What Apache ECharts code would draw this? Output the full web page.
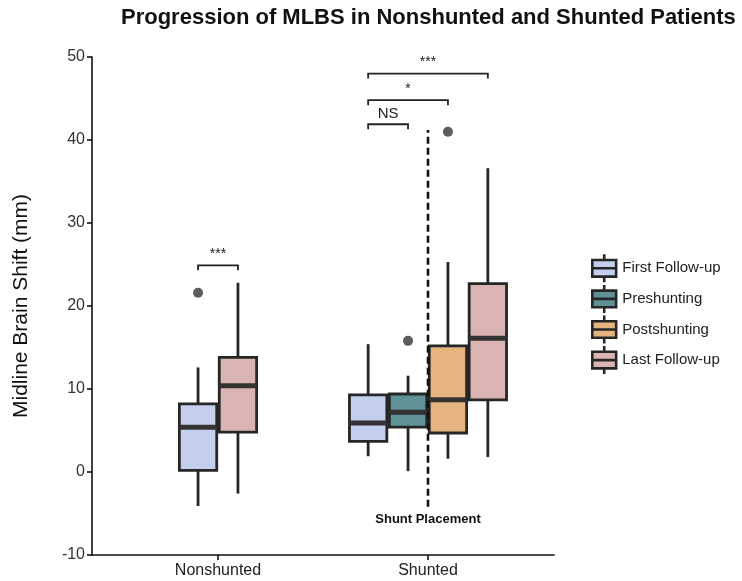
<!DOCTYPE html>
<html>
<head>
<meta charset="utf-8">
<script src="https://cdn.jsdelivr.net/npm/echarts@6/dist/echarts.min.js"></script>
<style>html,body{margin:0;padding:0;background:#fff}#c{width:742px;height:581px}</style>
</head>
<body>
<div id="c"></div>
<script>
// ---- data ----
const categories = ['Nonshunted', 'Shunted'];
const seriesNames = ['First Follow-up', 'Preshunting', 'Postshunting', 'Last Follow-up'];
const yTicks = [-10, 0, 10, 20, 30, 40, 50];
// [min, q1, median, q3, max] per category (null = not present)
const firstFollowUp = [[-4.1, 0.2, 5.4, 8.2, 12.6], [1.9, 3.7, 5.9, 9.3, 15.4]];
const preshunting   = [null, [0.1, 5.4, 7.2, 9.4, 11.6]];
const postshunting  = [null, [1.6, 4.7, 8.7, 15.2, 25.3]];
const lastFollowUp  = [[-2.6, 4.8, 10.4, 13.8, 22.8], [1.8, 8.7, 16.1, 22.7, 36.6]];
// outliers per series per category
const firstOutliers = [[21.6], []];
const preOutliers   = [[], [15.8]];
const postOutliers  = [[], [41.0]];
const lastOutliers  = [[], []];
// significance brackets
const sigCats   = ['Nonshunted', 'Shunted', 'Shunted', 'Shunted'];
const sigFrom   = [0, 0, 0, 0];
const sigTo     = [1, 1, 2, 3];
const sigY      = [24.9, 41.9, 44.8, 48.0];
const sigLabels = ['***', 'NS', '*', '***'];
const shuntLine = { category: 'Shunted', from: -4.2, to: 41.2, label: 'Shunt Placement', labelY: -5.7 };

// ---- layout helpers ----
const colors = ['#c3cfec', '#5f9196', '#e6b47f', '#dab4b3'];
const allSeries = [firstFollowUp, preshunting, postshunting, lastFollowUp];
const allOutliers = [firstOutliers, preOutliers, postOutliers, lastOutliers];
const dodge = 0.19, boxW = 0.178;
function present(ci) { return allSeries.map((s, i) => s[ci] ? i : -1).filter(i => i >= 0); }
function boxX(ci, k) {
  const idx = present(ci);
  return (ci + 1) + (k - (idx.length - 1) / 2) * dodge;
}
function xPos(ci, si) { return boxX(ci, present(ci).indexOf(si)); }

const boxSeries = allSeries.map((s, si) => ({
  name: seriesNames[si],
  type: 'custom',
  color: colors[si],
  encode: { x: 0, y: [1, 5] },
  data: s.map((v, ci) => v ? [xPos(ci, si)].concat(v) : null).filter(d => d),
  renderItem: function (params, api) {
    const x = api.value(0);
    const pMin = api.coord([x, api.value(1)]);
    const pQ1 = api.coord([x, api.value(2)]);
    const pMed = api.coord([x, api.value(3)]);
    const pQ3 = api.coord([x, api.value(4)]);
    const pMax = api.coord([x, api.value(5)]);
    const w = api.size([boxW, 0])[0];
    const ln = { stroke: '#262626', lineWidth: 2.8 };
    return {
      type: 'group',
      children: [
        { type: 'line', shape: { x1: pQ3[0], y1: pQ3[1], x2: pMax[0], y2: pMax[1] }, style: ln },
        { type: 'line', shape: { x1: pMin[0], y1: pMin[1], x2: pQ1[0], y2: pQ1[1] }, style: ln },
        { type: 'rect', shape: { x: pQ3[0] - w / 2, y: pQ3[1], width: w, height: pQ1[1] - pQ3[1] },
          style: { fill: colors[si], stroke: '#262626', lineWidth: 2.8 } },
        { type: 'line', shape: { x1: pMed[0] - w / 2, y1: pMed[1], x2: pMed[0] + w / 2, y2: pMed[1] },
          style: { stroke: '#333', lineWidth: 5 } }
      ]
    };
  }
}));

const outlierData = [];
allOutliers.forEach((o, si) => o.forEach((vals, ci) => vals.forEach(v => outlierData.push([xPos(ci, si), v]))));

const sigData = sigY.map((y, i) => {
  const ci = categories.indexOf(sigCats[i]);
  return [boxX(ci, sigFrom[i]), boxX(ci, sigTo[i]), y, i];
});

const legendIcon = 'path://M12.5,0L12.5,5.5M1,5.5L24,5.5L24,21.5L1,21.5ZM1,13.5L24,13.5M12.5,21.5L12.5,27';

const option = {
  animation: false,
  backgroundColor: '#fff',
  title: {
    text: 'Progression of MLBS in Nonshunted and Shunted Patients',
    left: 116, top: 2,
    textStyle: { fontFamily: 'Liberation Sans', fontWeight: 'bold', fontSize: 22, color: '#111' }
  },
  legend: {
    orient: 'vertical', left: 591, top: 253, padding: 0,
    itemWidth: 26, itemHeight: 28, itemGap: 0,
    textStyle: { fontFamily: 'Liberation Sans', fontSize: 15, color: '#222' },
    data: seriesNames.map((n, i) => ({ name: n, icon: legendIcon,
      itemStyle: { color: colors[i], borderColor: '#262626', borderWidth: 2.6 } }))
  },
  grid: { left: 92, top: 57, width: 462, height: 498 },
  xAxis: {
    type: 'value', min: 0.4, max: 2.6,
    splitLine: { show: false },
    axisLine: { show: true, onZero: false, lineStyle: { color: '#111', width: 1.6 } },
    axisTick: { show: true, customValues: [1, 2], length: 5, lineStyle: { color: '#111', width: 1.6 } },
    axisLabel: { customValues: [1, 2], formatter: v => categories[Math.round(v) - 1],
      fontFamily: 'Liberation Sans', fontSize: 16, color: '#222', margin: 8 }
  },
  yAxis: {
    type: 'value', min: yTicks[0], max: yTicks[yTicks.length - 1], interval: 10,
    name: 'Midline Brain Shift (mm)', nameLocation: 'middle', nameGap: 60,
    nameTextStyle: { fontFamily: 'Liberation Sans', fontSize: 21, color: '#111' },
    splitLine: { show: false },
    axisLine: { show: true, onZero: false, lineStyle: { color: '#111', width: 1.6 } },
    axisTick: { show: true, length: 5, lineStyle: { color: '#111', width: 1.6 } },
    axisLabel: { fontFamily: 'Liberation Sans', fontSize: 16, color: '#333', margin: 7 }
  },
  series: boxSeries.concat([
    {
      type: 'scatter', data: outlierData, symbolSize: 10,
      itemStyle: { color: '#333' }, silent: true
    },
    {
      type: 'custom', data: sigData, silent: true,
      encode: { x: [0, 1], y: 2 },
      renderItem: function (params, api) {
        const x1 = api.value(0), x2 = api.value(1), y = api.value(2);
        const i = api.value(3);
        const a = api.coord([x1, y]), b = api.coord([x2, y]);
        const drop = 5;
        const lab = sigLabels[i];
        const isNS = lab === 'NS';
        return {
          type: 'group',
          children: [
            { type: 'polyline', shape: { points: [[a[0], a[1] + drop], a, b, [b[0], b[1] + drop]] },
              style: { stroke: '#222', lineWidth: 1.8, fill: null } },
            { type: 'text', x: (a[0] + b[0]) / 2, y: a[1] - (isNS ? 3 : 4),
              style: { text: lab, textAlign: 'center', textVerticalAlign: 'bottom',
                fontFamily: 'Liberation Sans', fontSize: isNS ? 15 : 14, fill: '#222' } }
          ]
        };
      }
    },
    {
      type: 'custom', silent: true,
      data: [[categories.indexOf(shuntLine.category) + 1, shuntLine.from, shuntLine.to, shuntLine.labelY]],
      encode: { x: 0, y: [1, 2] },
      renderItem: function (params, api) {
        const x = api.value(0);
        const p1 = api.coord([x, api.value(1)]), p2 = api.coord([x, api.value(2)]);
        const pl = api.coord([x, api.value(3)]);
        return {
          type: 'group',
          children: [
            { type: 'line', shape: { x1: p1[0], y1: p1[1], x2: p2[0], y2: p2[1] },
              style: { stroke: '#111', lineWidth: 2.6, lineDash: [7, 4] } },
            { type: 'text', x: pl[0], y: pl[1],
              style: { text: shuntLine.label, textAlign: 'center', textVerticalAlign: 'middle',
                fontFamily: 'Liberation Sans', fontSize: 13, fontWeight: 'bold', fill: '#111' } }
          ]
        };
      }
    }
  ])
};
echarts.init(document.getElementById('c')).setOption(option);
</script>
</body>
</html>
